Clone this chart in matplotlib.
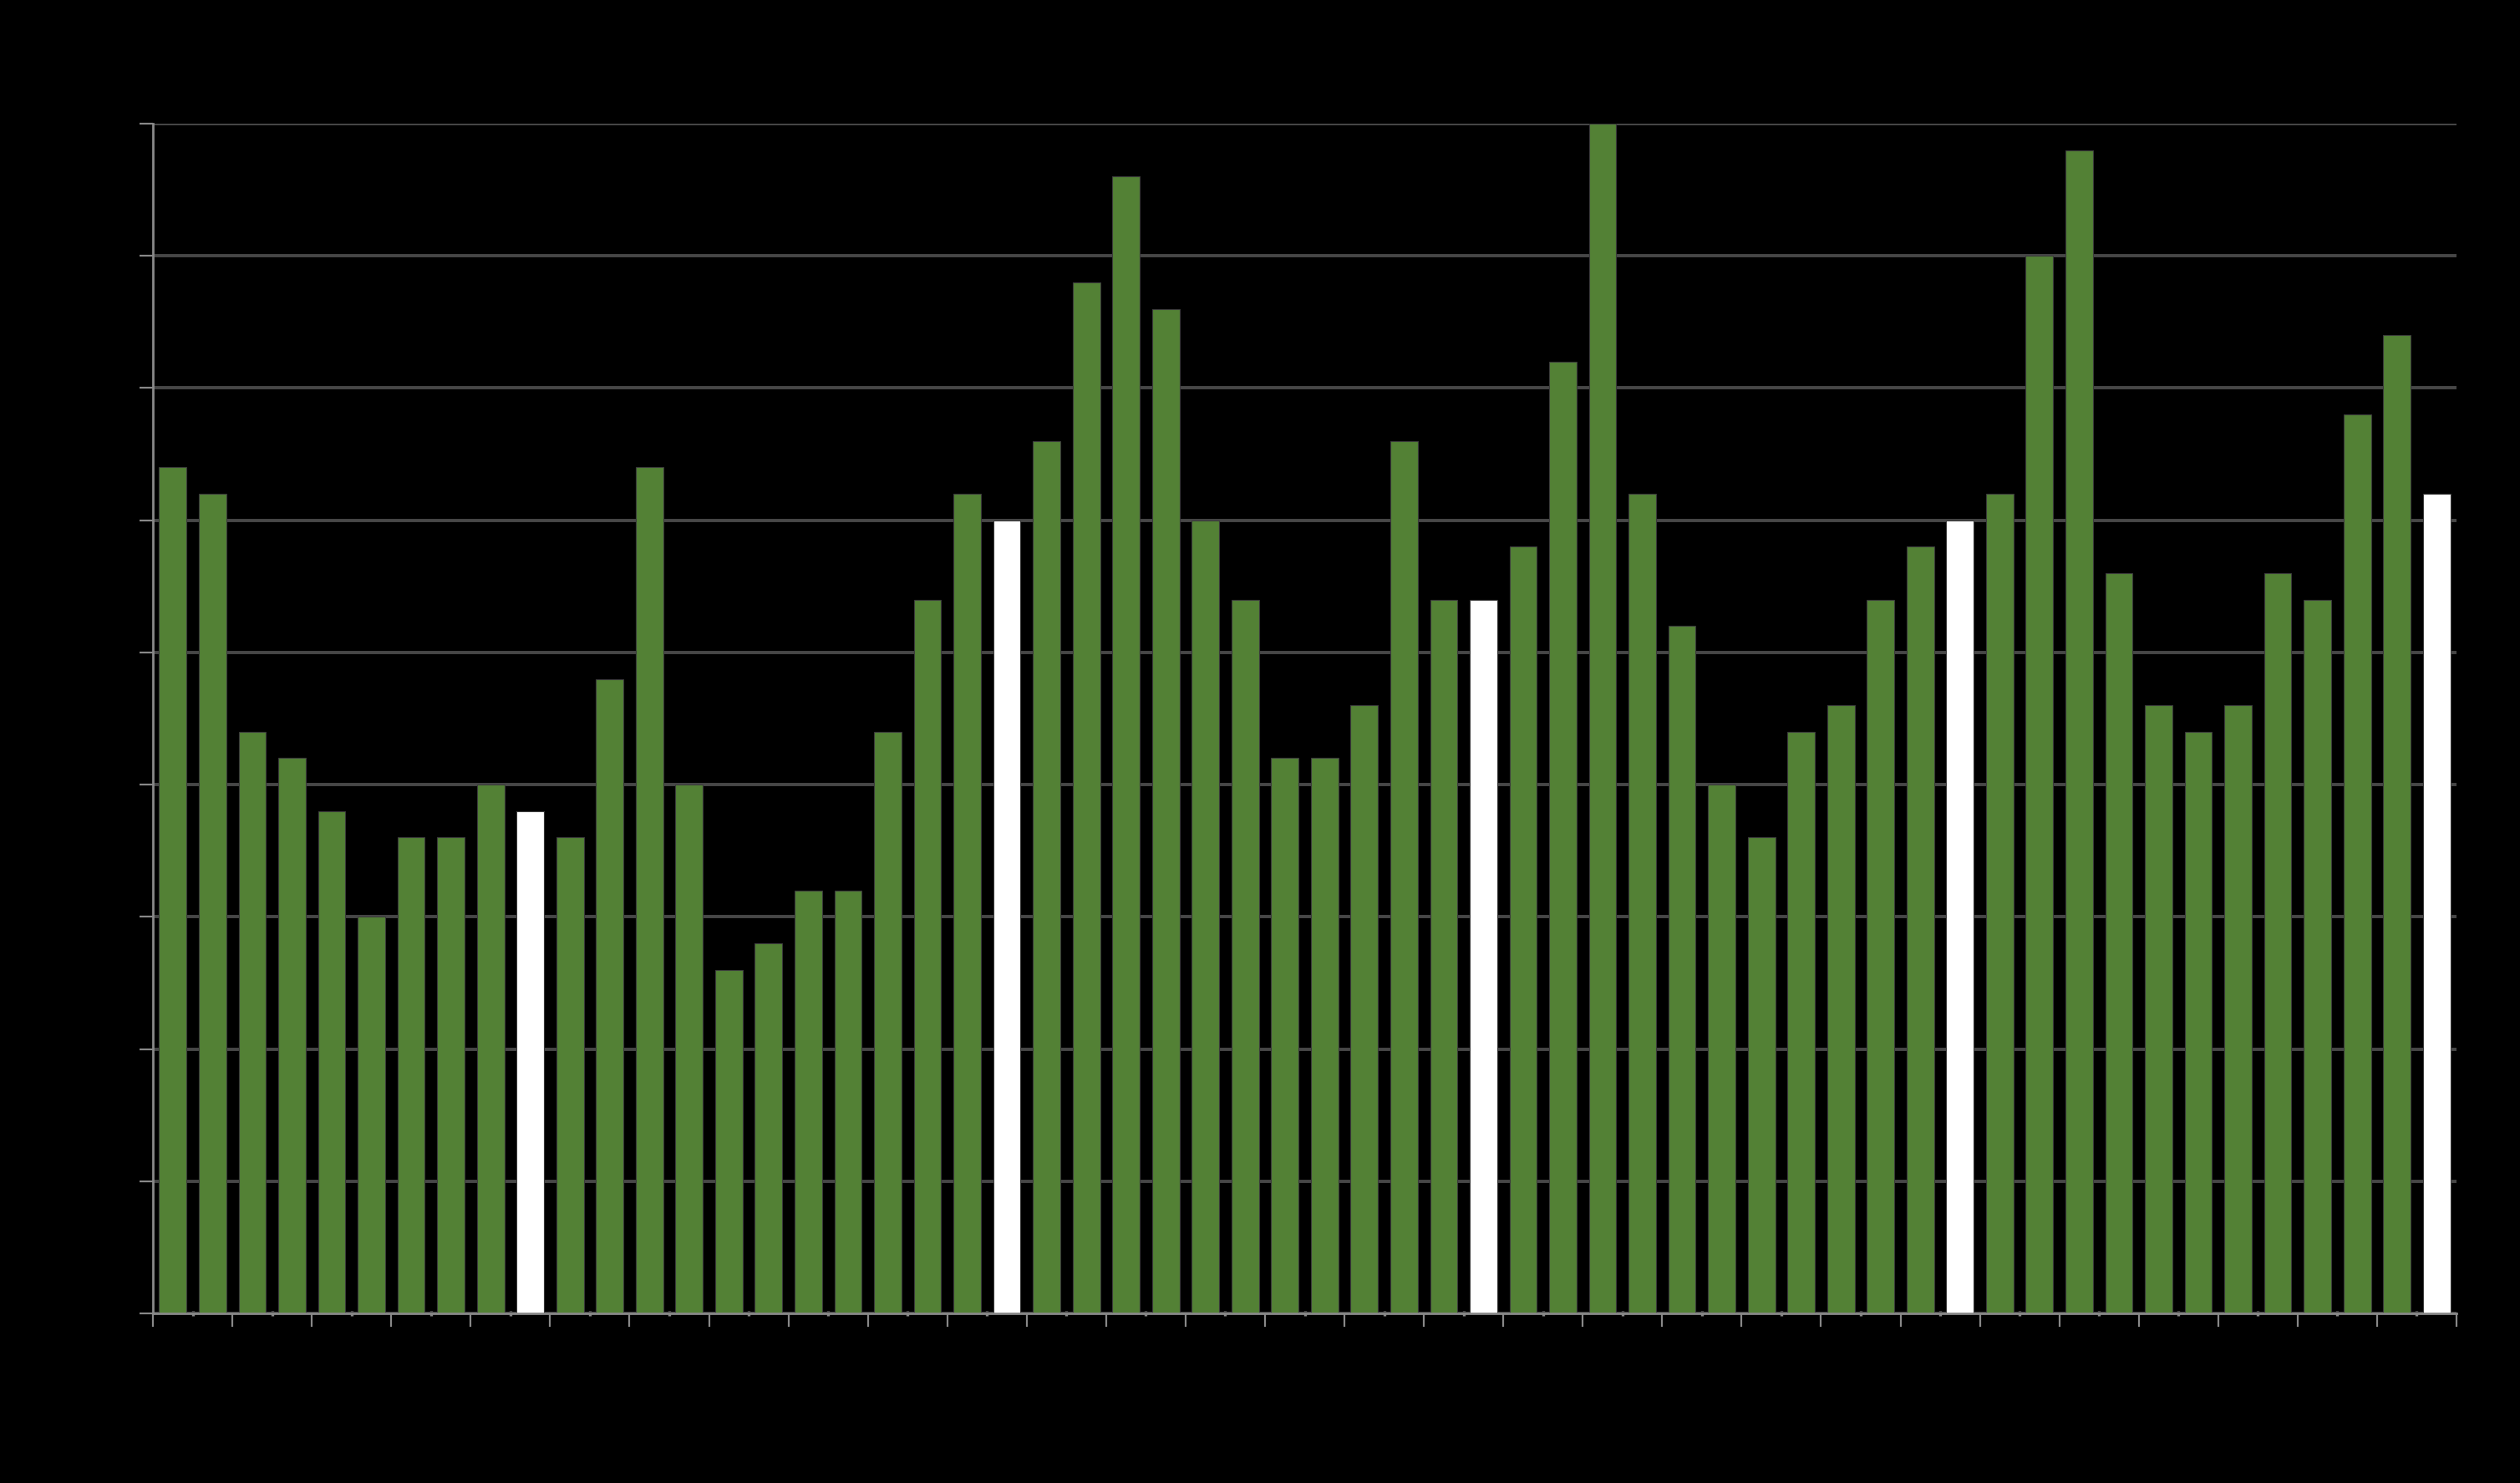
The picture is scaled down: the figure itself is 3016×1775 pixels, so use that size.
import numpy as np
import matplotlib
matplotlib.use("Agg")
import matplotlib.pyplot as plt

# bar heights (gridline step = 5)
values = [32, 31, 22, 21, 19, 15, 18, 18, 20, 19,
          18, 24, 32, 20, 13, 14, 16, 16, 22, 27,
          31, 30, 33, 39, 43, 38, 30, 27, 21, 21,
          23, 33, 27, 27, 29, 36, 45, 31, 26, 20,
          18, 22, 23, 27, 29, 30, 31, 40, 44, 28,
          23, 22, 23, 28, 27, 34, 37, 31]
# positions of the highlighted (white) bars
highlight = [9, 21, 33, 45, 57]

green = "#538135"
white = "#ffffff"
colors = [white if i in highlight else green for i in range(len(values))]

fig = plt.figure(figsize=(15.08, 8.875), dpi=200, facecolor="black")
ax = fig.add_axes([0.0607, 0.1144, 0.9141, 0.8022], facecolor="black")

x = np.arange(len(values))
ax.bar(x, values, width=0.69, color=colors, edgecolor="#3a3a3a",
       linewidth=0.4, zorder=3)

ax.set_xlim(-0.5, len(values) - 0.5)
ax.set_ylim(0, 45)
ax.set_yticks(np.arange(0, 46, 5))
ax.set_xticks(np.arange(-0.5, len(values), 2))
ax.set_xticks(np.arange(-0.5, len(values), 1), minor=True)
ax.set_xticklabels([])
ax.set_yticklabels([])

ax.grid(axis="y", color="#474747", linewidth=1.4, zorder=0)

for side in ["top", "right"]:
    ax.spines[side].set_visible(False)
for side in ["left", "bottom"]:
    ax.spines[side].set_color("#888888")
    ax.spines[side].set_linewidth(1.0)
    ax.spines[side].set_zorder(4)

ax.tick_params(axis="y", direction="out", length=5.8, width=0.8, color="#888888")
ax.tick_params(axis="x", which="major", direction="out", length=5.8, width=0.8, color="#888888")
ax.tick_params(axis="x", which="minor", direction="inout", length=2.5, width=1.2, color="#888888")

fig.savefig("out.png", dpi=200, facecolor="black")
